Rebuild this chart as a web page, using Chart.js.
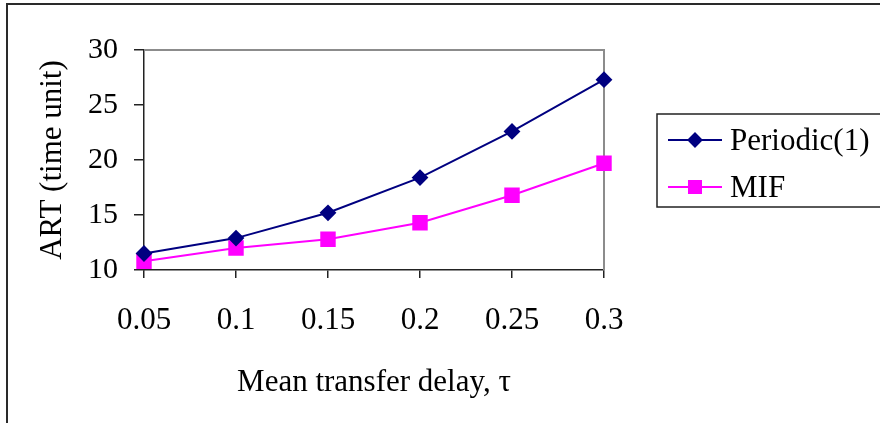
<!DOCTYPE html>
<html>
<head>
<meta charset="utf-8">
<title>ART vs mean transfer delay</title>
<script src="https://cdn.jsdelivr.net/npm/chart.js@4/dist/chart.umd.min.js"></script>
<style>
  html, body { margin: 0; padding: 0; background: #fff; }
  canvas { display: block; }
</style>
</head>
<body>
<canvas id="chart" width="880" height="423"></canvas>
<script>
// Mean transfer delay values on the x axis
const delays = ['0.05', '0.1', '0.15', '0.2', '0.25', '0.3'];
// Average response time for each scheme
const periodicART = [11.5, 12.9, 15.2, 18.4, 22.6, 27.3];
const mifART = [10.8, 12.0, 12.8, 14.3, 16.8, 19.7];
// Y axis range and step
const yMin = 10;
const yMax = 30;
const yStep = 5;

const SERIF = "'Liberation Serif', 'Times New Roman', serif";

// Outer frame plus the grey top/right edges of the plot area
const framePlugin = {
  id: 'frame',
  beforeDatasetsDraw(chart) {
    const { ctx, chartArea: a } = chart;
    ctx.save();
    ctx.strokeStyle = '#8c8c8c';
    ctx.lineWidth = 2;
    ctx.beginPath();
    ctx.moveTo(a.left, a.top);
    ctx.lineTo(a.right, a.top);
    ctx.lineTo(a.right, a.bottom);
    ctx.stroke();
    ctx.restore();
  },
  afterDraw(chart) {
    const { ctx } = chart;
    ctx.save();
    ctx.strokeStyle = '#2a2a2a';
    ctx.lineWidth = 2;
    ctx.beginPath();
    ctx.moveTo(7, chart.height);
    ctx.lineTo(7, 4);
    ctx.lineTo(chart.width, 4);
    ctx.stroke();
    ctx.restore();
  }
};

// Boxed legend to the right of the plot
const boxLegendPlugin = {
  id: 'boxLegend',
  afterDraw(chart) {
    const { ctx } = chart;
    const box = { x: 657, y: 114, w: 260, h: 93 };
    const rows = [140, 187];
    const markerSizes = [6.5, 8.5];
    ctx.save();
    ctx.strokeStyle = '#222';
    ctx.lineWidth = 1.5;
    ctx.strokeRect(box.x, box.y, box.w, box.h);
    chart.data.datasets.forEach((ds, i) => {
      const y = rows[i];
      ctx.strokeStyle = ds.borderColor;
      ctx.lineWidth = 2;
      ctx.beginPath();
      ctx.moveTo(668, y);
      ctx.lineTo(722, y);
      ctx.stroke();
      ctx.fillStyle = ds.pointBackgroundColor;
      ctx.strokeStyle = ds.pointBorderColor;
      Chart.helpers.drawPoint(ctx, {
        pointStyle: ds.pointStyle,
        radius: markerSizes[i],
        rotation: 0,
        borderWidth: 1
      }, 695, y);
      ctx.fillStyle = '#000';
      ctx.font = '31px ' + SERIF;
      ctx.textAlign = 'left';
      ctx.textBaseline = 'middle';
      ctx.fillText(ds.label, 730, y + 2);
    });
    ctx.restore();
  }
};

new Chart(document.getElementById('chart'), {
  type: 'line',
  data: {
    labels: delays,
    datasets: [
      {
        label: 'Periodic(1)',
        data: periodicART,
        borderColor: '#000080',
        backgroundColor: '#000080',
        pointBackgroundColor: '#000080',
        pointBorderColor: '#000080',
        pointStyle: 'rectRot',
        pointRadius: 7,
        borderWidth: 2,
        tension: 0
      },
      {
        label: 'MIF',
        data: mifART,
        borderColor: '#ff00ff',
        backgroundColor: '#ff00ff',
        pointBackgroundColor: '#ff00ff',
        pointBorderColor: '#ff00ff',
        pointStyle: 'rect',
        pointRadius: 9.5,
        borderWidth: 2,
        tension: 0
      }
    ]
  },
  options: {
    responsive: false,
    animation: false,
    layout: { padding: { left: 0, top: 50, right: 276, bottom: 0 } },
    plugins: {
      legend: { display: false },
      tooltip: { enabled: false }
    },
    scales: {
      x: {
        offset: false,
        grid: { drawOnChartArea: false, drawTicks: true, tickLength: 8, color: '#222', lineWidth: 1.5 },
        border: { display: true, color: '#222', width: 1.5 },
        ticks: { color: '#000', font: { family: SERIF, size: 31 }, padding: 24, maxRotation: 0, autoSkip: false },
        title: {
          display: true,
          text: 'Mean transfer delay, τ',
          color: '#000',
          font: { family: SERIF, size: 31 },
          padding: { top: 0, bottom: 22 }
        },
        afterFit(scale) { scale.height = 153; }
      },
      y: {
        min: yMin,
        max: yMax,
        grid: { drawOnChartArea: false, drawTicks: true, tickLength: 10, color: '#222', lineWidth: 1.5 },
        border: { display: true, color: '#222', width: 1.5 },
        ticks: { stepSize: yStep, color: '#000', font: { family: SERIF, size: 30 }, padding: 16 },
        title: {
          display: true,
          text: 'ART (time unit)',
          color: '#000',
          font: { family: SERIF, size: 31 },
          padding: { top: 34, bottom: 0 }
        },
        afterFit(scale) { scale.width = 144; }
      }
    }
  },
  plugins: [framePlugin, boxLegendPlugin]
});
</script>
</body>
</html>
